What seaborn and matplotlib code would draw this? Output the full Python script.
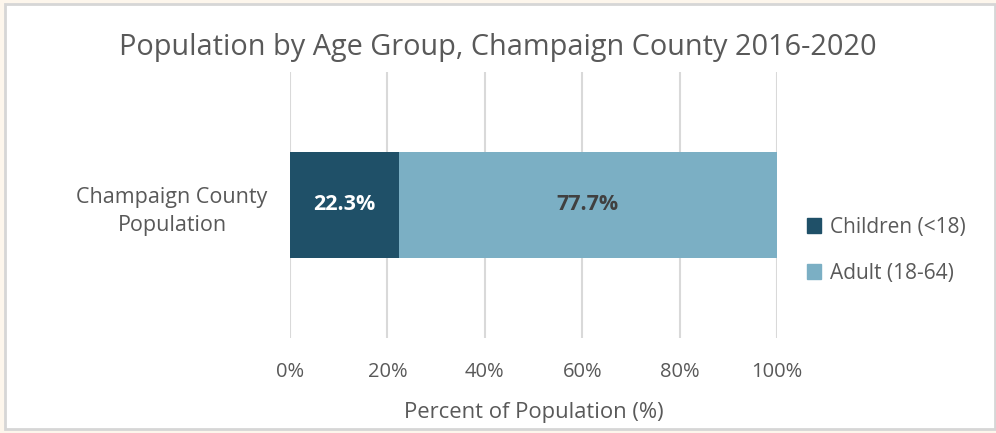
import numpy as np
import pandas as pd
import matplotlib.pyplot as plt
import matplotlib.patches as mpatches
import seaborn as sns

category = ["Champaign County\nPopulation"]
groups = ["Children (<18)", "Adult (18-64)"]
shares = [22.3, 77.7]
colors = ["#1F5068", "#7BAFC4"]
ticks = [0, 20, 40, 60, 80, 100]

sns.set_theme(style="white")
plt.rcParams["font.family"] = ["Open Sans", "DejaVu Sans"]
grey = "#595959"

df = pd.DataFrame({"group": groups, "share": shares})
df["right"] = np.cumsum(df["share"])
df["cat"] = category[0]

fig = plt.figure(figsize=(9.96, 4.33), dpi=100, facecolor="#FDF6EC")
fig.patches.append(mpatches.Rectangle((5 / 996, 4 / 433), 990 / 996, 425 / 433,
                                      transform=fig.transFigure, facecolor="white",
                                      edgecolor="#D6D6D6", linewidth=2, zorder=-5))
ax = fig.add_axes([290 / 996, 1 - 338 / 433, 487 / 996, 266 / 433])
ax.set_facecolor("none")

# stacked: draw the cumulative bars from the outermost inward
for i in reversed(range(len(df))):
    row = df.iloc[[i]]
    sns.barplot(data=row, x="right", y="cat", orient="h", color=colors[i],
                width=0.4, ax=ax, saturation=1, linewidth=0)

left = 0
for i, row in df.iterrows():
    ax.text(left + row["share"] / 2, 0, f"{row['share']:.1f}%", ha="center", va="center",
            fontsize=15.5, fontweight="bold", color="white" if i == 0 else "#404040")
    left += row["share"]

ax.set_xlim(0, 100)
ax.set_ylim(0.5, -0.5)
ax.set_xticks(ticks)
ax.set_xticklabels([f"{t}%" for t in ticks])
ax.grid(axis="x", color="#D9D9D9", linewidth=1.5)
ax.set_axisbelow(True)
for s in ax.spines.values():
    s.set_visible(False)
ax.tick_params(axis="x", colors=grey, labelsize=14.5, pad=17, length=0)
ax.tick_params(axis="y", colors=grey, labelsize=15.5, pad=85, length=0)
for t in ax.get_yticklabels():
    t.set_ha("center")
    t.set_linespacing(1.45)
ax.set_ylabel("")
ax.set_xlabel("Percent of Population (%)", color=grey, fontsize=15.8, labelpad=15)

fig.text(0.5, 1 - 48 / 433, "Population by Age Group, Champaign County 2016-2020",
         ha="center", va="center", fontsize=20.8, color=grey)

handles = [mpatches.Patch(color=c) for c in colors]
fig.legend(handles, groups, loc="center left", bbox_to_anchor=(788 / 996, 1 - 250 / 433),
           frameon=False, fontsize=15, labelcolor=grey, handlelength=0.7,
           handleheight=0.7, handletextpad=0.4, labelspacing=1.2)

fig.savefig("out.png", dpi=100, facecolor=fig.get_facecolor())
